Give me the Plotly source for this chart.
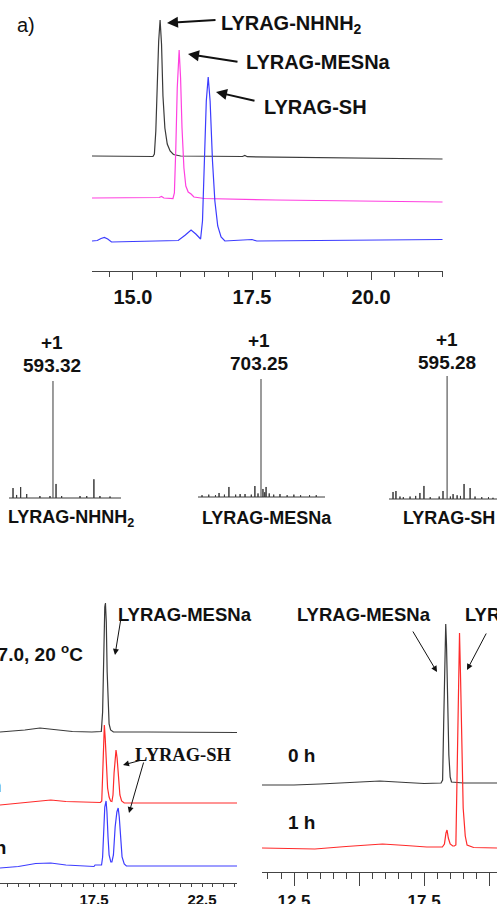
import plotly.graph_objects as go

W, H = 497, 904

# ---------------- DATA ----------------
# Panel a) HPLC traces (retention time, min ; intensity relative to own baseline)
a_nhnh2_t = [14.14, 15.0, 15.42, 15.45, 15.48, 15.51, 15.54, 15.57, 15.60, 15.63, 15.67, 15.72, 15.78, 15.85, 16.0, 17.3, 17.35, 17.4, 19.0, 21.5]
a_nhnh2_i = [0, -0.3, -0.5, 2, 25, 70, 115, 136, 112, 60, 28, 12, 5, 1.5, 0, -0.5, 0.5, -0.7, -1.5, -3]
a_mesna_t = [14.14, 15.0, 15.55, 15.6, 15.65, 15.84, 15.87, 15.90, 15.93, 15.97, 16.0, 16.03, 16.07, 16.11, 16.16, 16.22, 16.28, 16.5, 18.0, 21.5]
a_mesna_i = [0, 0, 0.5, 1.5, 0, -0.5, 5, 50, 110, 148, 120, 70, 30, 12, 6, 4, 1, -0.5, -2, -4]
a_sh_t = [14.14, 14.25, 14.33, 14.40, 14.47, 14.55, 15.0, 15.6, 15.95, 16.1, 16.22, 16.32, 16.42, 16.46, 16.50, 16.54, 16.58, 16.62, 16.67, 16.72, 16.78, 16.85, 16.93, 17.45, 17.5, 17.6, 19.0, 21.5]
a_sh_i = [0, 0.5, 2.5, 3.5, 2, -1, -0.5, 0, 0.5, 6, 11, 7, 2, 20, 80, 140, 164, 140, 80, 40, 15, 4, 0, 1, 1.5, 0, 0.5, 1.5]
a_tickvals = [15.0, 17.5, 20.0]
a_ticktext = ["15.0", "17.5", "20.0"]

# Panel MS spectra (m/z ; relative intensity %)
ms1_mz = [415, 431, 449, 476, 535, 580, 593.32, 607, 632, 714, 744, 776, 803, 848]
ms1_int = [8.5, 2.6, 9.4, 3.4, 1.7, 1.7, 100, 12, 1.7, 1.7, 1.7, 16, 1.7, 1.3]
ms2_mz = [440, 470, 500, 516, 540, 560, 590, 610, 632, 660, 676, 690, 703.25, 712, 720, 726, 740, 760, 788, 820, 850, 880, 920, 950]
ms2_int = [1.5, 2, 1.5, 3.4, 2, 8.5, 2, 2.5, 2.5, 2, 9.3, 3, 100, 6.8, 4, 8.5, 3, 2, 2.5, 1.5, 2, 1.5, 1.5, 1.5]
ms3_mz = [354, 367, 385, 400, 430, 455, 474, 492, 520, 560, 577, 595.28, 610, 622, 640, 655, 671, 698, 720, 750, 780, 800]
ms3_int = [5.7, 6.5, 2, 1.5, 2, 2.5, 4.9, 10.6, 1.5, 2, 6.5, 100, 2, 4, 3, 2.5, 12.2, 8.9, 2, 1.5, 1.5, 1]
ms_main = [593.32, 703.25, 595.28]
ms_labels = ["593.32", "703.25", "595.28"]
ms_charge = ["+1", "+1", "+1"]
ms_names = ["LYRAG-NHNH<sub>2</sub>", "LYRAG-MESNa", "LYRAG-SH"]

# Panel bottom-left (pH 7.0, 20 C time course)
c_t0_t = [13.15, 13.5, 14.3, 15.0, 15.5, 16.5, 17.4, 17.84, 17.9, 17.95, 18.0, 18.03, 18.07, 18.11, 18.15, 18.2, 18.27, 18.4, 20.0, 24.12]
c_t0_i = [0, 0.5, 2, 4, 3, 0.5, 0, 0.5, 20, 80, 125, 129, 110, 60, 25, 8, 2, 0, 0, -0.5]
c_t1_t = [13.15, 14.0, 15.0, 15.5, 16.2, 17.0, 17.8, 17.86, 17.9, 17.94, 17.98, 18.02, 18.07, 18.13, 18.2, 18.27, 18.33, 18.38, 18.43, 18.48, 18.52, 18.57, 18.63, 18.7, 18.78, 18.9, 24.12]
c_t1_i = [-2, 0, 2.5, 3, 1.5, 1, 0.5, 2, 30, 65, 78, 65, 35, 15, 6, 2, 1.5, 8, 30, 48, 53, 45, 25, 8, 2, 0, 0]
c_t2_t = [13.15, 14.0, 14.8, 15.5, 16.2, 17.0, 17.5, 17.55, 17.85, 17.9, 17.95, 18.0, 18.06, 18.1, 18.15, 18.2, 18.28, 18.33, 18.4, 18.48, 18.56, 18.62, 18.67, 18.73, 18.8, 18.9, 19.0, 24.12]
c_t2_i = [-1, 0.5, 3.5, 4, 2, 1, 0.5, 2, 2, 10, 40, 60, 66, 55, 30, 12, 5, 5, 12, 40, 55, 59, 50, 28, 10, 3, 1, 1]
c_tickvals = [17.5, 22.5]
c_ticktext = ["17.5", "22.5"]

# Panel bottom-right (0 h / 1 h)
d_t0_t = [11.27, 12.5, 13.5, 14.5, 15.8, 16.8, 17.5, 18.15, 18.21, 18.25, 18.3, 18.33, 18.36, 18.4, 18.45, 18.5, 18.55, 19.0, 20.3]
d_t0_i = [0, 0, 1, 2.5, 4, 2.5, 1.5, 2, 5, 60, 140, 161, 140, 80, 30, 8, 3, 2, 2]
d_t1_t = [11.27, 12.5, 13.3, 14.5, 15.3, 15.9, 16.8, 17.6, 18.2, 18.28, 18.34, 18.38, 18.43, 18.5, 18.6, 18.66, 18.72, 18.76, 18.82, 18.86, 18.9, 18.95, 19.0, 19.08, 19.15, 19.4, 20.3]
d_t1_i = [0, -0.5, -1, 1.5, 3, 4, 2.5, 1, 1, 4, 15, 18, 10, 4, 2, 2, 3, 60, 180, 215, 170, 90, 40, 12, 3, 0.5, 0]
d_tickvals = [12.5, 15.0, 17.5, 20.0]
d_ticktext = ["12.5", "", "17.5", ""]

# ---------------- HELPERS ----------------
def px(x):
    return x / W

def py(y):
    return 1 - y / H

SANS = "Liberation Sans, Arial, sans-serif"
SERIF = "Liberation Serif, Times New Roman, serif"
AXC = "#444444"

fig = go.Figure()

def add_line(t, i, off, color, xa, ya, width=1.2):
    fig.add_trace(go.Scatter(x=t, y=[v + off for v in i], mode="lines",
                             line=dict(color=color, width=width),
                             xaxis=xa, yaxis=ya, showlegend=False, hoverinfo="skip"))

# Panel a
add_line(a_nhnh2_t, a_nhnh2_i, 115, "#3a3a3a", "x", "y")
add_line(a_mesna_t, a_mesna_i, 73, "#ff40e0", "x", "y")
add_line(a_sh_t, a_sh_i, 30, "#3c3cff", "x", "y")

# Panel c
add_line(c_t0_t, c_t0_i, 151, "#3a3a3a", "x2", "y2")
add_line(c_t1_t, c_t1_i, 80, "#ff2a2a", "x2", "y2")
add_line(c_t2_t, c_t2_i, 16, "#3c3cff", "x2", "y2")

# Panel d
add_line(d_t0_t, d_t0_i, 87, "#3a3a3a", "x3", "y3")
add_line(d_t1_t, d_t1_i, 24, "#ff2a2a", "x3", "y3")

# MS stick spectra
def add_ms(mz, inten, main, xr, xa, ya):
    pts = sorted((m, v) for m, v in zip(mz, inten) if m != main)
    xs, ys = [xr[0]], [0]
    for m, v in pts:
        xs += [m, m, m]
        ys += [0, v, 0]
    xs.append(xr[1]); ys.append(0)
    fig.add_trace(go.Scatter(x=xs, y=ys, mode="lines", line=dict(color="#3a3a3a", width=1),
                             xaxis=xa, yaxis=ya, showlegend=False, hoverinfo="skip"))
    top = [v for m, v in zip(mz, inten) if m == main][0]
    fig.add_trace(go.Scatter(x=[main, main], y=[0, top], mode="lines", line=dict(color="#5a5a5a", width=1.2),
                             xaxis=xa, yaxis=ya, showlegend=False, hoverinfo="skip"))

ms_specs = [
    (ms1_mz, ms1_int, [397, 897], (9, 121), (498, 381)),
    (ms2_mz, ms2_int, [422, 989], (198, 325), (497, 379)),
    (ms3_mz, ms3_int, [336, 818], (389, 497), (499, 376)),
]

layout = dict(
    width=W, height=H, margin=dict(l=0, r=0, t=0, b=0, pad=0, autoexpand=False),
    paper_bgcolor="white", plot_bgcolor="rgba(0,0,0,0)", showlegend=False,
)

def chrom_xaxis(dom, rng, tickvals, ticktext, ticklen, minorlen, fsize, standoff):
    return dict(domain=[px(dom[0]), px(dom[1])], range=rng, showgrid=False, zeroline=False,
                automargin=False,
                showline=True, linecolor=AXC, linewidth=1, ticks="outside", ticklen=ticklen,
                tickcolor=AXC, tickwidth=1, tickmode="array", tickvals=tickvals, ticktext=ticktext,
                minor=dict(ticks="outside", tick0=0, dtick=0.5, ticklen=minorlen, tickcolor=AXC, tickwidth=1, showgrid=False),
                tickfont=dict(family=SANS, size=fsize, color="#111", weight="bold"),
                ticklabelstandoff=standoff, fixedrange=True)

def hidden_y(dom_px, rng, anchor):
    return dict(domain=[py(dom_px[0]), py(dom_px[1])], range=rng, visible=False, fixedrange=True,
                anchor=anchor, automargin=False)

layout["xaxis"] = chrom_xaxis((92, 443), [14.14, 21.51], a_tickvals, a_ticktext, 8, 5, 20, 0)
layout["xaxis"]["anchor"] = "y"
layout["yaxis"] = hidden_y((271, 8), [0, 263], "x")
layout["xaxis2"] = chrom_xaxis((0, 237), [13.15, 24.12], c_tickvals, c_ticktext, 3, 3, 15, 0)
layout["xaxis2"]["anchor"] = "y2"
layout["yaxis2"] = hidden_y((883, 598), [0, 285], "x2")
layout["xaxis3"] = chrom_xaxis((262, 497), [11.27, 20.3], d_tickvals, d_ticktext, 13, 6, 17, 1)
layout["xaxis3"]["anchor"] = "y3"
layout["yaxis3"] = hidden_y((872, 598), [0, 274], "x3")

for k, ((mz, inten, xr, xdom, ypx), main) in enumerate(zip(ms_specs, ms_main)):
    n = k + 4
    add_ms(mz, inten, main, xr, f"x{n}", f"y{n}")
    base, top = ypx
    scale = 100.0 / (base - top)
    pad = 3
    layout[f"xaxis{n}"] = dict(domain=[px(xdom[0]), px(xdom[1])], range=xr, visible=False,
                               anchor=f"y{n}", fixedrange=True, automargin=False)
    layout[f"yaxis{n}"] = dict(domain=[py(base + pad), py(top - pad)],
                               range=[-pad * scale, 100 + pad * scale], visible=False,
                               anchor=f"x{n}", fixedrange=True, automargin=False)

fig.update_layout(**layout)

ann = []

def txt(x, y, s, size, anchor="center", family=SANS, bold=True):
    ann.append(dict(x=px(x), y=py(y), xref="paper", yref="paper", text=s, showarrow=False,
                    xanchor=anchor, yanchor="middle",
                    font=dict(family=family, size=size, color="#111", weight="bold" if bold else "normal")))

def arrow(hx, hy, tx, ty, width=1.0, size=1.0):
    ann.append(dict(x=px(hx), y=py(hy), xref="paper", yref="paper", text="", showarrow=True,
                    ax=tx - hx, ay=ty - hy, arrowhead=2, arrowsize=size, arrowwidth=width,
                    arrowcolor="#111"))

# Panel a labels
txt(15, 25, "a)", 20, "left", bold=False)
txt(219, 25, "LYRAG-NHNH<sub>2</sub>", 20, "left")
txt(244, 62, "LYRAG-MESNa", 20, "left")
txt(262, 107, "LYRAG-SH", 20, "left")
arrow(167, 23, 217, 20, 2, 1.1)
arrow(188, 54, 239, 62, 2, 1.1)
arrow(216, 92, 256, 101, 2, 1.1)

# MS labels
for (cx, cy1, cy2), ch, lab in zip([(52, 342, 365), (259, 340, 363), (447, 339, 362)], ms_charge, ms_labels):
    txt(cx, cy1, ch, 19)
    txt(cx, cy2, lab, 19)
for cx, name in zip([71, 267, 449], ms_names):
    txt(cx, 518, name, 18)

# Panel c labels
txt(116, 614, "LYRAG-MESNa", 18.5, "left")
arrow(115, 655, 121, 618, 1, 1.2)
txt(85, 653, "pH 7.0, 20 <sup>o</sup>C", 19, "right")
txt(133, 755, "LYRAG-SH", 18.5, "left", family=SERIF)
arrow(123, 765, 142, 760, 1, 1.2)
arrow(129, 813, 144, 761, 1, 1.2)
txt(3, 785, "1 h", 19, "right")
txt(8, 847, "3 h", 19, "right")

# Panel d labels
txt(295, 614, "LYRAG-MESNa", 18.5, "left")
txt(463, 614, "LYRAG-SH", 18.5, "left")
arrow(437, 672, 412, 630, 1, 1.2)
arrow(467, 670, 487, 632, 1, 1.2)
txt(301, 755, "0 h", 19)
txt(301, 822, "1 h", 19)

fig.update_layout(annotations=ann)
fig.write_html("out.html", config={"displayModeBar": False},
               post_script="document.body.style.margin='0';document.body.style.overflow='hidden';")
